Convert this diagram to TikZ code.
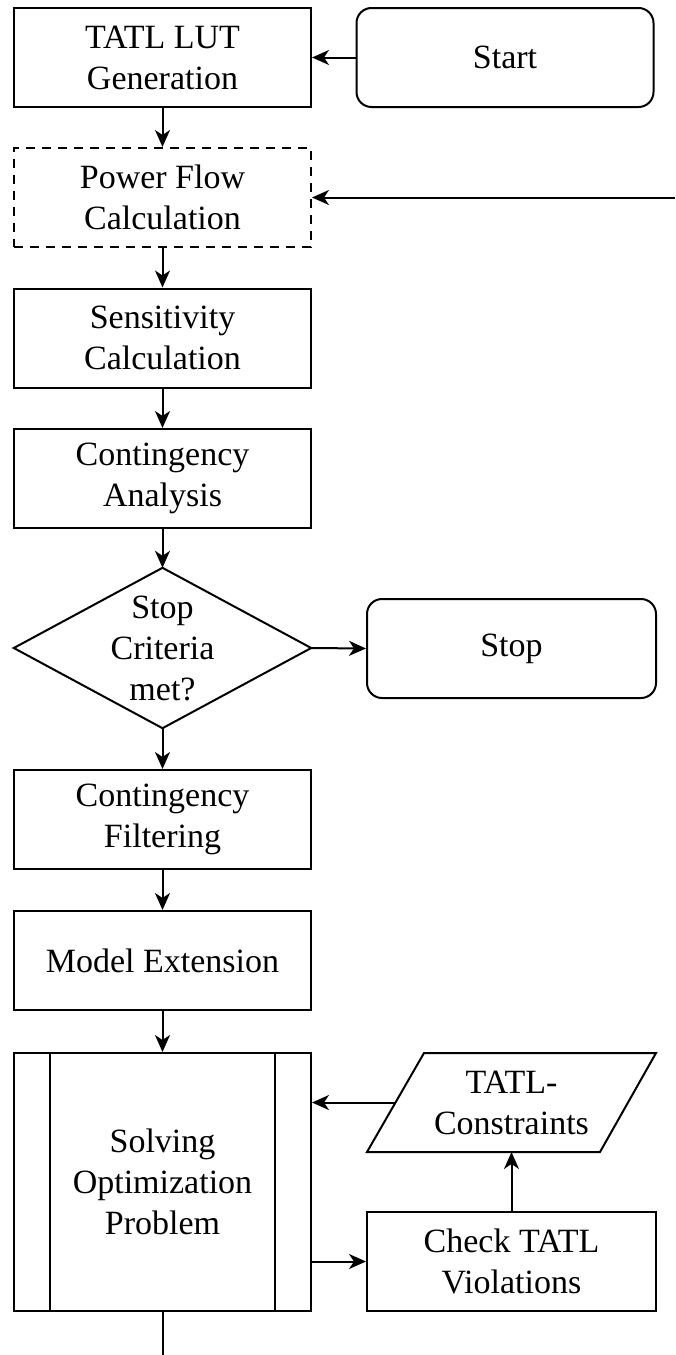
\documentclass[tikz,border=0pt]{standalone}
\usepackage{fontspec}
\setmainfont{Liberation Serif}
\usetikzlibrary{arrows.meta,calc}
\begin{document}
\begin{tikzpicture}[x=1pt,y=-1pt,
  lbl/.style={align=center, inner sep=0pt, font=\fontsize{34}{41}\selectfont},
  box/.style={lbl, draw, line width=2pt, minimum width=297pt, minimum height=99pt},
  sidebox/.style={lbl, draw, line width=2pt, minimum width=289pt, minimum height=99pt},
  roundbox/.style={sidebox, rounded corners=15pt},
  dashbox/.style={box, dash pattern=on 9pt off 7pt},
  arr/.style={line width=2pt, -{Stealth[length=17pt,width=15pt,inset=5pt]}},
  ln/.style={line width=2pt}]
\useasboundingbox (0,0) rectangle (675,1355);

\node[box] (tatl) at (162.5,57.5) {TATL LUT\\Generation};
\node[roundbox, minimum width=297pt] (start) at (505,57.5) {Start};
\node[dashbox] (pf) at (162.5,197.5) {Power Flow\\Calculation};
\node[box] (sens) at (162.5,338) {Sensitivity\\Calculation};
\node[box] (ca) at (162.5,478.5) {Contingency\\Analysis};
\node[lbl, minimum width=297pt, minimum height=160pt] (dia) at (162.5,648) {Stop\\Criteria\\met?};
\draw[ln, line join=miter] (dia.north) -- (dia.east) -- (dia.south) -- (dia.west) -- cycle;
\node[roundbox] (stop) at (511.5,648.5) {Stop};
\node[box] (cf) at (162.5,819.5) {Contingency\\Filtering};
\node[box] (me) at (162.5,960.5) {Model Extension};
\node[box, minimum height=258pt] (solve) at (162.5,1182) {Solving\\Optimization\\Problem};
\draw[ln] ($(solve.north west)+(37,0)$) -- ($(solve.south west)+(37,0)$);
\draw[ln] ($(solve.north east)+(-37,0)$) -- ($(solve.south east)+(-37,0)$);

\coordinate (pbl) at (367,1152);
\coordinate (pbr) at (600,1152);
\coordinate (ptr) at (656,1053);
\coordinate (ptl) at (424,1053);
\draw[ln, line join=miter] (pbl) -- (pbr) -- (ptr) -- (ptl) -- cycle;
\node[lbl] (tc) at (511.5,1102.5) {TATL-\\Constraints};
\coordinate (tcin) at (396,1102.5);
\node[sidebox] (check) at (511.5,1261.5) {Check TATL\\Violations};

\coordinate (input) at (675,197.5);
\coordinate (end) at (162.5,1355);

\draw[arr] (start) -- (tatl);
\draw[arr] (tatl) -- (pf);
\draw[arr] (input) -- (pf.east);
\draw[arr] (pf) -- (sens);
\draw[arr] (sens) -- (ca);
\draw[arr] (ca.south) -- (dia.north);
\draw[arr] (dia.east) -- (stop.west);
\draw[arr] (dia.south) -- (cf.north);
\draw[arr] (cf) -- (me);
\draw[arr] (me) -- (solve);
\draw[arr] (check.west -| solve.east) -- (check.west);
\draw[arr] (check.north) -- (check.north |- pbl);
\draw[arr] (tcin) -- (tcin -| solve.east);
\draw[ln] (solve.south) -- (end);
\end{tikzpicture}
\end{document}
